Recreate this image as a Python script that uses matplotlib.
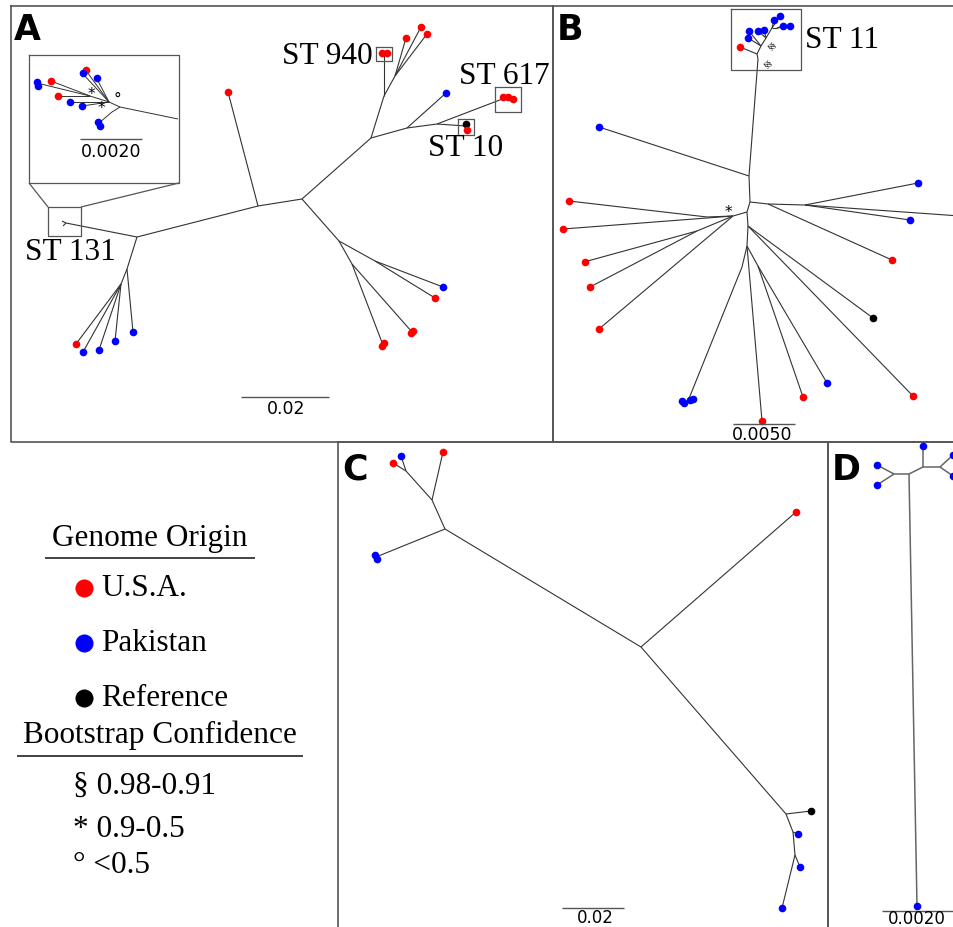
import matplotlib
matplotlib.use("Agg")
import matplotlib.pyplot as plt

# ---------------- data (layout positions, pixel units) -------------
ORIGIN_COLORS = {"USA": "#ff0000", "PAK": "#0000ff", "REF": "#000000"}
ORIGIN_LABELS = ["U.S.A.", "Pakistan", "Reference"]
BOOT_LABELS = ["§ 0.98-0.91", "* 0.9-0.5", "° <0.5"]
ST_LABELS_A = ["ST 940", "ST 617", "ST 10", "ST 131"]
ST_LABEL_B = "ST 11"
SCALE_LABELS = {"A": "0.02", "Ainset": "0.0020", "B": "0.0050", "C": "0.02", "D": "0.0020"}

# Panel A main tree
A_nodes = {
    "n1": (258, 207), "n2": (302, 200), "n3": (137, 238), "st131": (66, 224),
    "r1": (228, 93), "n4": (371, 139), "n5": (384, 97), "st940": (384, 55),
    "n6": (395, 77), "a940a": (406, 39), "a940b": (421, 28), "a940c": (427, 35),
    "n7": (407, 129), "b617": (446, 94), "n8": (437, 125), "st617": (505, 99),
    "st10": (466, 127), "n9": (339, 242), "n10": (375, 262), "l1": (443, 288),
    "l2": (435, 299), "n11": (352, 265), "l3": (412, 333), "l4": (383, 346),
    "n12": (127, 270), "l5": (133, 333), "n13": (121, 285), "l6": (76, 345),
    "l7": (83, 353), "l8": (99, 351), "l9": (115, 342),
}
A_edges = [("n1", "n2"), ("n1", "n3"), ("n3", "st131"), ("n1", "r1"), ("n2", "n4"),
           ("n4", "n5"), ("n5", "st940"), ("n5", "n6"), ("n6", "a940a"), ("n6", "a940b"),
           ("n6", "a940c"), ("n4", "n7"), ("n7", "b617"), ("n7", "n8"), ("n8", "st617"),
           ("n8", "st10"), ("n2", "n9"), ("n9", "n10"), ("n10", "l1"), ("n10", "l2"),
           ("n9", "n11"), ("n11", "l3"), ("n11", "l4"), ("n3", "n12"), ("n12", "l5"),
           ("n12", "n13"), ("n13", "l6"), ("n13", "l7"), ("n13", "l8"), ("n13", "l9")]
A_tips_x = [228, 382, 387, 406, 421, 427, 446, 503, 508, 513, 466, 467, 443, 435, 411, 413, 382, 384, 133, 76, 83, 99, 115]
A_tips_y = [93, 54, 54, 39, 28, 35, 94, 98, 98, 100, 125, 131, 288, 299, 334, 332, 347, 344, 333, 345, 353, 351, 342]
A_tips_o = ["USA", "USA", "USA", "USA", "USA", "USA", "PAK", "USA", "USA", "USA", "REF", "USA",
            "PAK", "USA", "USA", "USA", "USA", "USA", "PAK", "USA", "PAK", "PAK", "PAK"]

# Panel A inset (ST 131 zoom)
I_nodes = {"root": (178, 120), "i0": (120, 108), "i1": (109, 103), "i2": (112, 113),
           "i3": (90, 97), "t1": (97, 80), "t2": (87, 73), "t3": (83, 75),
           "t4": (37, 84), "t5": (51, 82), "t6": (58, 97), "t7": (70, 103), "t8": (82, 107),
           "t9": (99, 124)}
I_edges = [("root", "i0"), ("i0", "i1"), ("i0", "i2"), ("i1", "t1"), ("i1", "t2"), ("i1", "t3"),
           ("i1", "i3"), ("i3", "t4"), ("i3", "t5"), ("i3", "t6"), ("i1", "t7"), ("i1", "t8"),
           ("i2", "t9")]
I_tips_x = [97, 86, 83, 37, 38, 51, 58, 70, 82, 98, 100]
I_tips_y = [79, 71, 74, 83, 87, 82, 97, 103, 107, 123, 127]
I_tips_o = ["PAK", "USA", "PAK", "PAK", "PAK", "USA", "USA", "PAK", "PAK", "PAK", "PAK"]

# Panel B tree
B_nodes = {
    "b0": (750, 203), "bu": (749, 177), "p1": (599, 128), "r": (758, 60),
    "k0": (757, 55), "k1": (761, 47), "k2": (766, 39), "k3": (772, 29), "k4": (777, 29),
    "c0": (740, 48), "c1": (748, 39), "c2": (749, 32), "c3": (758, 32), "c4": (764, 31),
    "c5": (774, 21), "c6": (780, 17), "c7": (783, 27), "c8": (790, 27),
    "br1": (768, 205), "br2": (805, 206), "q1": (918, 184), "q2": (910, 221), "q3": (960, 217),
    "q4": (892, 261), "b1": (747, 213), "b2": (733, 217), "bb": (707, 218), "bc": (697, 232),
    "u1": (569, 202), "u2": (563, 230), "u3": (584, 263), "u4": (590, 288), "u5": (599, 330),
    "bd": (748, 227), "q5": (873, 319), "q6": (913, 397), "b3": (747, 247), "bf": (742, 268),
    "v1": (688, 402), "v2": (762, 422), "bg": (758, 267), "v3": (803, 398), "v4": (827, 384),
}
B_edges = [("b0", "bu"), ("bu", "p1"), ("bu", "r"), ("r", "k0"), ("k0", "c0"), ("k0", "k1"),
           ("k1", "c1"), ("k1", "c2"), ("k1", "k2"), ("k2", "c3"), ("k2", "c4"), ("k2", "k3"),
           ("k3", "c5"), ("k3", "c6"), ("k3", "k4"), ("k4", "c7"), ("k4", "c8"),
           ("b0", "br1"), ("br1", "br2"),
           ("br2", "q1"), ("br2", "q2"), ("br2", "q3"), ("br1", "q4"), ("b0", "b1"), ("b1", "b2"),
           ("b2", "bb"), ("bb", "u1"), ("b2", "u2"), ("b2", "bc"), ("bc", "u3"), ("bc", "u4"),
           ("b2", "u5"), ("b1", "bd"), ("bd", "q5"), ("bd", "q6"), ("bd", "b3"), ("b3", "bf"),
           ("bf", "v1"), ("b3", "v2"), ("b3", "bg"), ("bg", "v3"), ("bg", "v4")]
B_tips_x = [599, 740, 748, 749, 758, 764, 774, 780, 783, 790, 918, 910, 892, 569, 563, 585,
            590, 599, 873, 913, 682, 684, 690, 693, 762, 803, 827]
B_tips_y = [128, 48, 39, 32, 32, 31, 21, 17, 27, 27, 184, 221, 261, 202, 230, 263, 288, 330,
            319, 397, 402, 404, 401, 400, 422, 398, 384]
B_tips_o = ["PAK", "USA", "PAK", "PAK", "PAK", "PAK", "PAK", "PAK", "PAK", "PAK", "PAK",
            "PAK", "USA", "USA", "USA", "USA", "USA", "USA", "REF", "USA", "PAK", "PAK", "PAK",
            "PAK", "USA", "USA", "PAK"]

# Panel C tree
C_nodes = {"c0": (641, 648), "r1": (796, 513), "c1": (445, 530), "b1": (376, 558),
           "c2": (432, 501), "r2": (443, 453), "c3": (406, 472), "r3": (393, 464), "b2": (401, 457),
           "c4": (786, 815), "k": (811, 812), "c5": (793, 833), "b3": (798, 835), "c6": (795, 856),
           "b4": (800, 868), "b5": (782, 909)}
C_edges = [("c0", "r1"), ("c0", "c1"), ("c1", "b1"), ("c1", "c2"), ("c2", "r2"), ("c2", "c3"),
           ("c3", "r3"), ("c3", "b2"), ("c0", "c4"), ("c4", "k"), ("c4", "c5"), ("c5", "b3"),
           ("c5", "c6"), ("c6", "b4"), ("c6", "b5")]
C_tips_x = [796, 375, 377, 443, 393, 401, 811, 798, 800, 782]
C_tips_y = [513, 556, 560, 453, 464, 457, 812, 835, 868, 909]
C_tips_o = ["USA", "PAK", "PAK", "USA", "USA", "PAK", "REF", "PAK", "PAK", "PAK"]

# Panel D tree
D_nodes = {"d0": (909, 475), "d1": (894, 475), "t1": (877, 466), "t2": (877, 486),
           "t3": (917, 907), "d2": (923, 468), "t4": (923, 447), "d3": (940, 468),
           "t5": (953, 456), "t6": (953, 477)}
D_edges = [("d0", "d1"), ("d1", "t1"), ("d1", "t2"), ("d0", "t3"), ("d0", "d2"), ("d2", "t4"),
           ("d2", "d3"), ("d3", "t5"), ("d3", "t6")]
D_tips_x = [877, 877, 917, 923, 953, 953]
D_tips_y = [466, 486, 907, 447, 456, 477]
D_tips_o = ["PAK"] * 6

# ---------------- drawing ----------------
W, H = 954, 928
fig = plt.figure(figsize=(W / 100, H / 100), dpi=100)
ax = fig.add_axes([0, 0, 1, 1])
ax.set_xlim(0, W)
ax.set_ylim(H, 0)
ax.axis("off")

LINE = "#333333"
FRAME = "#555555"
SERIF = "Liberation Serif"
FS_SERIF = 22.5


def seg(x0, y0, x1, y1, color=LINE, lw=0.8, clip=None):
    ln, = ax.plot([x0, x1], [y0, y1], color=color, lw=lw, solid_capstyle="butt")
    if clip is not None:
        ln.set_clip_path(clip)
    return ln


def box(x0, y0, x1, y1, color=FRAME, lw=1.0):
    ax.plot([x0, x1, x1, x0, x0], [y0, y0, y1, y1, y0], color=color, lw=lw)


def tree(nodes, edges, tx, ty, to, ms=5.5, lw=0.8, clip=None, color=LINE):
    for a, b in edges:
        (x0, y0), (x1, y1) = nodes[a], nodes[b]
        seg(x0, y0, x1, y1, lw=lw, clip=clip, color=color)
    for x, y, o in zip(tx, ty, to):
        ax.plot(x, y, "o", ms=ms, color=ORIGIN_COLORS[o], mec="none")


# Panel frames
box(11, 7, 553, 443, lw=1.2)
box(553, 7, 970, 443, lw=1.2)
box(338, 443, 828, 940, lw=1.2)
box(828, 443, 970, 940, lw=1.2)

for lab, (x, y) in zip("ABCD", [(14, 40), (557, 40), (342, 480), (832, 480)]):
    ax.text(x, y, lab, fontsize=25, fontweight="bold", family="DejaVu Sans", va="baseline")

# Panel A
tree(A_nodes, A_edges, A_tips_x, A_tips_y, A_tips_o)
seg(66, 224, 62, 222)
seg(66, 224, 63, 227)
box(376, 48, 392, 62, lw=0.9)
box(495, 88, 521, 113, lw=0.9)
box(458, 120, 474, 136, lw=0.9)
box(48, 208, 81, 237, lw=0.9)
box(29, 56, 179, 184, lw=0.9)
seg(29, 184, 48, 208, color=FRAME, lw=0.9)
seg(179, 184, 81, 208, color=FRAME, lw=0.9)
ax.text(327, 56, ST_LABELS_A[0], family=SERIF, fontsize=FS_SERIF, ha="center", va="center")
ax.text(504, 76, ST_LABELS_A[1], family=SERIF, fontsize=FS_SERIF, ha="center", va="center")
ax.text(466, 148, ST_LABELS_A[2], family=SERIF, fontsize=FS_SERIF, ha="center", va="center")
ax.text(70, 252, ST_LABELS_A[3], family=SERIF, fontsize=FS_SERIF, ha="center", va="center")
# inset
tree(I_nodes, I_edges, I_tips_x, I_tips_y, I_tips_o, ms=5.5, lw=0.7)
ax.text(91, 94, "*", family="DejaVu Sans", fontsize=11, ha="center", va="center")
ax.text(101, 109, "*", family="DejaVu Sans", fontsize=11, ha="center", va="center")
ax.text(117, 99, "°", family="DejaVu Sans", fontsize=11, ha="center", va="center")
seg(80, 140, 142, 140, color="#555555", lw=1.0)
ax.text(111, 152, SCALE_LABELS["Ainset"], family="DejaVu Sans", fontsize=12.5, ha="center", va="center")
seg(241, 398, 329, 398, color="#555555", lw=1.0)
ax.text(286, 409, SCALE_LABELS["A"], family="DejaVu Sans", fontsize=12.5, ha="center", va="center")

# Panel B
clipB = plt.Rectangle((553, 7), 401, 436, transform=ax.transData, fc="none", ec="none")
ax.add_patch(clipB)
tree(B_nodes, B_edges, B_tips_x, B_tips_y, B_tips_o, clip=clipB)
box(731, 10, 801, 71, lw=0.9)
ax.text(805, 40, ST_LABEL_B, family=SERIF, fontsize=FS_SERIF, ha="left", va="center")
for (x, y) in [(772, 46), (768, 64)]:
    ax.text(x, y, "§§", family=SERIF, fontsize=6.5, rotation=40, ha="center", va="center")
ax.text(728, 212, "*", family="DejaVu Sans", fontsize=11, ha="center", va="center")
seg(733, 425, 795, 425, color="#555555", lw=1.0)
ax.text(762, 435, SCALE_LABELS["B"], family="DejaVu Sans", fontsize=12.5, ha="center", va="center")

# Panel C
tree(C_nodes, C_edges, C_tips_x, C_tips_y, C_tips_o)
seg(562, 909, 624, 909, color="#555555", lw=1.0)
ax.text(595, 918, SCALE_LABELS["C"], family="DejaVu Sans", fontsize=12, ha="center", va="center")

# Panel D
tree(D_nodes, D_edges, D_tips_x, D_tips_y, D_tips_o, color="#666666", lw=1.1)
seg(882, 912, 954, 912, color="#555555", lw=1.0)
ax.text(917, 919, SCALE_LABELS["D"], family="DejaVu Sans", fontsize=12, ha="center", va="center")

# Legend
ax.text(150, 539, "Genome Origin", family=SERIF, fontsize=FS_SERIF, ha="center", va="center")
seg(45, 559, 255, 559, color="#222222", lw=1.2)
for lab, o, y in zip(ORIGIN_LABELS, ["USA", "PAK", "REF"], [589, 644, 699]):
    ax.plot(84, y, "o", ms=13, color=ORIGIN_COLORS[o], mec="none")
    ax.text(101, y, lab, family=SERIF, fontsize=FS_SERIF, ha="left", va="center")
ax.text(160, 735, "Bootstrap Confidence", family=SERIF, fontsize=FS_SERIF, ha="center", va="center")
seg(17, 757, 303, 757, color="#222222", lw=1.2)
for lab, y in zip(BOOT_LABELS, [786, 830, 866]):
    ax.text(73, y, lab, family=SERIF, fontsize=FS_SERIF, ha="left", va="center")

fig.savefig("out.png", dpi=100)
